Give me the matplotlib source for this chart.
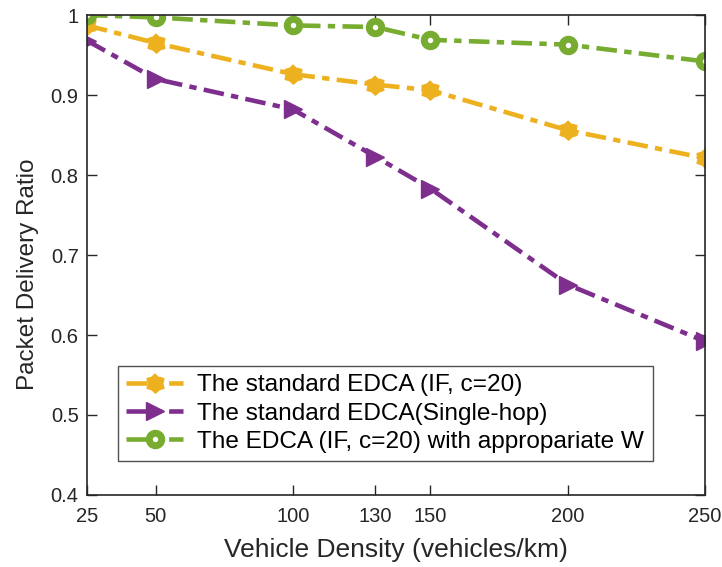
import matplotlib
matplotlib.use("Agg")
import numpy as np
import matplotlib.pyplot as plt

plt.rcParams['font.family'] = ['Liberation Sans', 'DejaVu Sans']

density = [25, 50, 100, 130, 150, 200, 250]
pdr_if = [0.987, 0.965, 0.926, 0.913, 0.906, 0.856, 0.821]
pdr_single = [0.968, 0.920, 0.882, 0.823, 0.783, 0.663, 0.592]
pdr_w = [1.000, 0.997, 0.987, 0.985, 0.969, 0.963, 0.942]

labels = ['The standard EDCA (IF, c=20)',
          'The standard EDCA(Single-hop)',
          'The EDCA (IF, c=20) with appropariate W']

# hexagram marker shape (MATLAB style)
ang = np.pi / 2 + np.arange(12) * np.pi / 6
rad = np.where(np.arange(12) % 2 == 0, 1.0, 0.75)
hexagram = np.column_stack([rad * np.cos(ang), rad * np.sin(ang)])

dash = (4.5, 1.6, 1.6, 1.6)
axis_col = '#262626'

fig = plt.figure(figsize=(7.22, 5.67), dpi=100)
ax = fig.add_axes([0.1205, 0.127, 0.856, 0.8465])

ax.plot(density, pdr_if, color='#EDB120', linestyle='-.', dashes=dash, linewidth=3.3,
        marker=hexagram, markersize=14, markerfacecolor='#EDB120',
        markeredgecolor='#EDB120', label=labels[0])
ax.plot(density, pdr_single, color='#7E2F8E', linestyle='-.', dashes=dash, linewidth=3.3,
        marker='>', markersize=13, markerfacecolor='#7E2F8E',
        markeredgecolor='#7E2F8E', label=labels[1])
ax.plot(density, pdr_w, color='#77AC30', linestyle='-.', dashes=dash, linewidth=3.3,
        marker='o', markersize=9, markerfacecolor='white',
        markeredgewidth=5, markeredgecolor='#77AC30', label=labels[2])

ax.set_xlim(25, 250)
ax.set_ylim(0.4, 1.0)
ax.set_xticks(density)
ax.set_yticks([0.4, 0.5, 0.6, 0.7, 0.8, 0.9, 1.0])
ax.set_yticklabels(['0.4', '0.5', '0.6', '0.7', '0.8', '0.9', '1'])
ax.tick_params(direction='in', top=True, right=True, labelsize=14.5, length=7, width=1,
               colors=axis_col)
ax.tick_params(axis='x', pad=9)
ax.tick_params(axis='y', pad=6)
for s in ax.spines.values():
    s.set_linewidth(1.2)
    s.set_color(axis_col)

ax.set_xlabel('Vehicle Density (vehicles/km)', fontsize=19, color=axis_col, labelpad=8)
ax.set_ylabel('Packet Delivery Ratio', fontsize=17.5, color=axis_col)
ax.yaxis.set_label_coords(-0.078, 0.46)

leg = ax.legend(loc='lower left', bbox_to_anchor=(0.05, 0.07), fontsize=17.6,
                frameon=True, fancybox=False, edgecolor=axis_col,
                handlelength=2.3, borderpad=0.35, labelspacing=0.25, handletextpad=0.6,
                borderaxespad=0)
leg.get_frame().set_linewidth(1.0)

fig.savefig('out.png', dpi=100)
